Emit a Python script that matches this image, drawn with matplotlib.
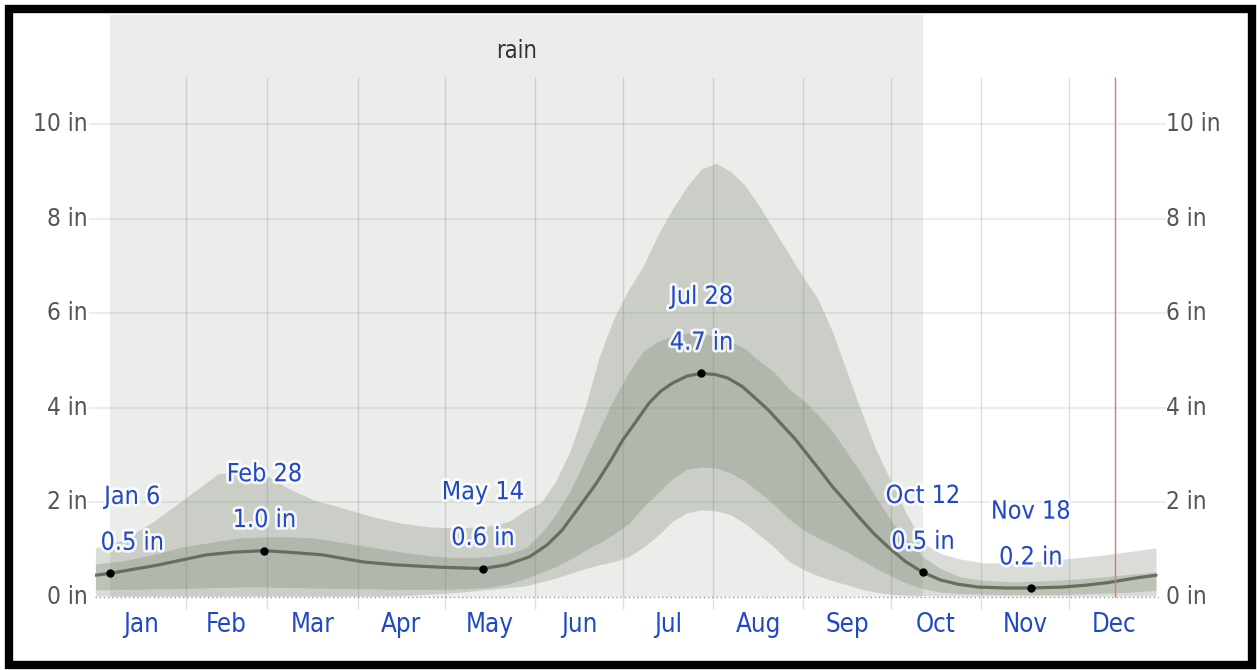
import numpy as np
import matplotlib
matplotlib.use('Agg')
import matplotlib.pyplot as plt
import matplotlib.patheffects as pe
from matplotlib import font_manager
from matplotlib.patches import Rectangle

# day of year, 0 = Jan 1
median_days = [0, 5, 21, 38, 48, 58, 70, 78, 92, 103, 118, 133, 141, 149, 155, 160, 166, 172, 177,
               181, 186, 190, 194, 198, 203, 208, 213, 217, 222, 226, 231, 235, 240, 244, 249, 253,
               258, 262, 267, 272, 278, 284, 290, 296, 303, 312, 321, 332, 340, 347, 352, 358, 364]
median_in = [0.46, 0.50, 0.67, 0.89, 0.95, 0.98, 0.93, 0.89, 0.74, 0.68, 0.63, 0.60, 0.68, 0.85, 1.10,
             1.40, 1.90, 2.41, 2.90, 3.32, 3.75, 4.10, 4.35, 4.52, 4.67, 4.73, 4.70, 4.63, 4.45, 4.23,
             3.95, 3.68, 3.35, 3.04, 2.65, 2.33, 1.98, 1.69, 1.35, 1.06, 0.75, 0.52, 0.36, 0.27, 0.21,
             0.19, 0.19, 0.21, 0.25, 0.30, 0.35, 0.41, 0.46]

band_days = [0, 10, 20, 30, 42, 50, 58, 66, 75, 85, 95, 105, 115, 125, 135, 142, 148, 153, 158, 163,
             168, 173, 178, 183, 188, 193, 198, 203, 208, 213, 218, 223, 228, 233, 238, 243, 248, 253,
             258, 263, 268, 273, 278, 284, 290, 297, 305, 315, 325, 335, 345, 355, 364]
p90 = [1.04, 1.22, 1.60, 2.05, 2.60, 2.66, 2.60, 2.30, 2.05, 1.88, 1.70, 1.56, 1.48, 1.46, 1.50, 1.60,
       1.85, 2.00, 2.45, 3.10, 4.00, 5.10, 5.90, 6.50, 7.00, 7.65, 8.20, 8.68, 9.05, 9.17, 9.00, 8.70,
       8.25, 7.75, 7.25, 6.75, 6.30, 5.60, 4.75, 3.90, 3.10, 2.45, 1.80, 1.15, 0.92, 0.80, 0.72, 0.72,
       0.76, 0.82, 0.88, 0.96, 1.04]
p75 = [0.70, 0.77, 0.90, 1.06, 1.18, 1.25, 1.27, 1.27, 1.25, 1.15, 1.05, 0.95, 0.87, 0.83, 0.85, 0.92,
       1.05, 1.35, 1.75, 2.25, 2.90, 3.55, 4.20, 4.75, 5.20, 5.40, 5.52, 5.58, 5.58, 5.50, 5.40, 5.25,
       4.98, 4.75, 4.40, 4.16, 3.85, 3.50, 3.05, 2.60, 2.10, 1.62, 1.25, 0.85, 0.60, 0.42, 0.35, 0.32,
       0.34, 0.37, 0.42, 0.48, 0.53]
p25 = [0.15, 0.16, 0.17, 0.18, 0.20, 0.21, 0.21, 0.20, 0.19, 0.18, 0.17, 0.16, 0.16, 0.17, 0.20, 0.28,
       0.40, 0.52, 0.64, 0.80, 0.98, 1.15, 1.33, 1.55, 1.90, 2.20, 2.50, 2.70, 2.75, 2.73, 2.62, 2.45,
       2.20, 1.95, 1.65, 1.42, 1.25, 1.10, 0.95, 0.78, 0.60, 0.45, 0.30, 0.18, 0.10, 0.07, 0.06, 0.05,
       0.05, 0.06, 0.08, 0.10, 0.14]
p10 = [0.02, 0.02, 0.02, 0.02, 0.02, 0.02, 0.02, 0.02, 0.02, 0.02, 0.02, 0.03, 0.06, 0.10, 0.16, 0.20,
       0.24, 0.32, 0.40, 0.50, 0.60, 0.68, 0.75, 0.85, 1.05, 1.30, 1.60, 1.78, 1.84, 1.82, 1.74, 1.55,
       1.30, 1.05, 0.75, 0.58, 0.45, 0.34, 0.26, 0.16, 0.10, 0.06, 0.04, 0.03, 0.02, 0.02, 0.02, 0.02,
       0.02, 0.02, 0.02, 0.02, 0.02]

season_label = 'rain'
season_start = 5
season_end = 284
today_day = 350

month_names = ['Jan', 'Feb', 'Mar', 'Apr', 'May', 'Jun', 'Jul', 'Aug', 'Sep', 'Oct', 'Nov', 'Dec']
month_starts = [0, 31, 59, 90, 120, 151, 181, 212, 243, 273, 304, 334, 365]
y_ticks = [0, 2, 4, 6, 8, 10]

extreme_days = [5, 58, 133, 208, 284, 321]
extreme_vals = [0.50, 0.98, 0.60, 4.73, 0.52, 0.19]
extreme_dates = ['Jan 6', 'Feb 28', 'May 14', 'Jul 28', 'Oct 12', 'Nov 18']
extreme_text = ['0.5 in', '1.0 in', '0.6 in', '4.7 in', '0.5 in', '0.2 in']

# narrow font if there is one, the reference text is tall and condensed
fonts = font_manager.fontManager.ttflist
names = {f.name for f in fonts}
stretch = 'normal'
if 'Liberation Sans Narrow' in names:
    font = 'Liberation Sans Narrow'
    fs_tick, fs_month, fs_lab, fs_rain = 21, 19.5, 20.5, 20
elif any(f.name == 'DejaVu Sans' and f.stretch == 'condensed' for f in fonts):
    font = 'DejaVu Sans'
    stretch = 'condensed'
    fs_tick, fs_month, fs_lab, fs_rain = 17.5, 18.5, 18, 17
else:
    font = 'DejaVu Sans'
    fs_tick, fs_month, fs_lab, fs_rain = 16, 17, 16.5, 15.5
plt.rcParams['font.family'] = [font, 'DejaVu Sans']
plt.rcParams['font.stretch'] = stretch

band_col = '#6a7561'
blue = '#2148c9'

fig = plt.figure(figsize=(12.57, 6.70), dpi=100)
ax = fig.add_axes([0.0759, 0.0878, 0.8461, 0.8895])
ax.set_xlim(0, 365)
ax.set_ylim(-0.3, 12.3)
ax.axis('off')

# season shading
ax.fill_between([season_start, season_end], 0, 12.3, color='#ebedea', lw=0, zorder=0)
ax.text((season_start + season_end) / 2, 11.55, season_label, ha='center', va='center',
        fontsize=fs_rain, color='#333333')

# grid
for y in y_ticks[1:]:
    ax.plot([-2, 367], [y, y], color='black', alpha=0.07, lw=1.5, clip_on=False, zorder=1)
ax.plot([0, 365], [0, 0], color='#999999', lw=1, ls=(0, (1, 2)), zorder=1)
ax.vlines(month_starts[1:-1], -0.25, 11, color='black', alpha=0.12, lw=1, zorder=1)
ax.vlines([today_day], 0, 11, color='#f07070', lw=1, zorder=4)

# bands
ax.fill_between(band_days, p10, p90, color=band_col, alpha=0.25, lw=0, zorder=2)
ax.fill_between(band_days, p25, p75, color=band_col, alpha=0.25, lw=0, zorder=2)
ax.plot(median_days, median_in, color='#65705c', lw=2.3, zorder=3, solid_capstyle='round')

# extremes
halo = [pe.withStroke(linewidth=4, foreground='white', alpha=0.85)]
ax.plot(extreme_days, extreme_vals, 'o', color='black', ms=5, zorder=5)
for d, v, t1, t2 in zip(extreme_days, extreme_vals, extreme_dates, extreme_text):
    dx = 16 if d == extreme_days[0] else 0
    ax.annotate(t1, (d, v), xytext=(dx, 55), textcoords='offset points', ha='center',
                va='center', color=blue, fontsize=fs_lab, path_effects=halo, zorder=6)
    ax.annotate(t2, (d, v), xytext=(dx, 22), textcoords='offset points', ha='center',
                va='center', color=blue, fontsize=fs_lab, path_effects=halo, zorder=6)

# axis labels
for y in y_ticks:
    ax.text(-2.6, y, f'{y} in', ha='right', va='center', fontsize=fs_tick, color='#555555')
    ax.text(367.3, y, f'{y} in', ha='left', va='center', fontsize=fs_tick, color='#555555')
for i, m in enumerate(month_names):
    mid = (month_starts[i] + month_starts[i + 1]) / 2
    ax.text(mid, -0.6, m, ha='center', va='center', fontsize=fs_month, color=blue)

fig.patches.append(Rectangle((9 / 1257, 5 / 670), 1243 / 1257, 656 / 670, transform=fig.transFigure,
                             fill=False, edgecolor='black', lw=6))

fig.savefig('out.png', dpi=100)
